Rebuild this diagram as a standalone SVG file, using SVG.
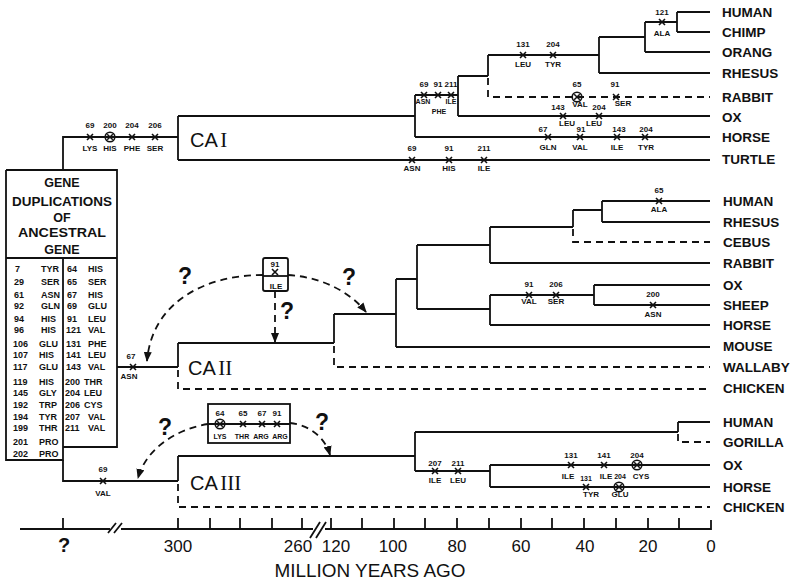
<svg xmlns="http://www.w3.org/2000/svg" xmlns:xlink="http://www.w3.org/1999/xlink" width="793" height="582" viewBox="0 0 793 582">
<style>
.ln{fill:none;stroke:#111;stroke-width:1.8}
.ds{fill:none;stroke:#111;stroke-width:1.8;stroke-dasharray:7 5}
.da{fill:none;stroke:#111;stroke-width:1.8;stroke-dasharray:7 5}
.sp{font-family:"Liberation Sans",Arial,sans-serif;font-weight:bold;font-size:13.5px;fill:#111}
.n{font-family:"Liberation Sans",Arial,sans-serif;font-weight:bold;font-size:8px;fill:#111;text-anchor:middle}
.s{font-size:7px}
.tb{font-family:"Liberation Sans",Arial,sans-serif;font-weight:bold;font-size:9px;fill:#111}
.hd{font-family:"Liberation Sans",Arial,sans-serif;font-weight:bold;font-size:12.5px;fill:#111;text-anchor:middle}
.q{font-family:"Liberation Sans",Arial,sans-serif;font-weight:bold;font-size:23px;fill:#111;text-anchor:middle}
.ax{font-family:"Liberation Sans",Arial,sans-serif;font-size:17px;fill:#111;text-anchor:middle}
.ca{font-family:"Liberation Sans",Arial,sans-serif;font-size:20px;fill:#111;word-spacing:-2px}
.rn{font-family:"Liberation Serif","Times New Roman",serif;font-size:21px}
</style>
<defs>
<g id="x"><path d="M-3,-3L3,3M3,-3L-3,3" stroke="#111" stroke-width="1.6" fill="none"/></g>
<g id="xc"><circle r="4.8" fill="none" stroke="#111" stroke-width="1.6"/><path d="M-2.8,-2.8L2.8,2.8M2.8,-2.8L-2.8,2.8" stroke="#111" stroke-width="1.5" fill="none"/></g>
<marker id="ah" markerUnits="userSpaceOnUse" markerWidth="10" markerHeight="8" refX="9" refY="4" orient="auto"><path d="M0,0L10,4L0,8z" fill="#111" stroke="none"/></marker>
</defs>
<rect width="793" height="582" fill="#fff"/>

<g id="connectors">
<!-- CA I -->
<path class="ln" d="M63,170V137H178M178,116V160M178,116H415M178,160H710M415,95V137M415,95H458M415,137H710M458,76V116M458,76H488M458,116H710M488,55V76M488,55H599M599,37V73M599,37H645M599,73H710M645,22V52M645,22H677M645,52H710M677,12V32M677,12H710M677,32H710"/>
<path class="ds" d="M488,78V97H710"/>
<!-- CA II -->
<path class="ln" d="M117,367H178M178,343V367M178,343H334M334,314V343M334,314H396M396,279V347M396,279H417M396,347H710M417,245V309M417,245H490M417,309H490M490,227V263M490,227H573M490,263H710M573,210V227M573,210H602M602,201V222M602,201H710M602,222H710M490,295V325M490,295H594M490,325H710M594,285V305M594,285H710M594,305H710"/>
<path class="ds" d="M178,370V389H710M334,346V367H710M573,229V242H710"/>
<!-- CA III -->
<path class="ln" d="M63,460V481H178M178,456V481M178,456H415M415,432V471M415,432H678M678,422V432M678,422H710M415,471H490M490,465V487M490,465H710M490,487H710"/>
<path class="ds" d="M178,484V507H710M678,434V442H710"/>
<!-- uncertain origin arrows -->
<path class="da" d="M263,275C205,275 152,302 147,361" marker-end="url(#ah)"/>
<path class="da" d="M288,275C322,277 350,292 366,312" marker-end="url(#ah)"/>
<path class="da" d="M275,291V342" marker-end="url(#ah)"/>
<path class="da" d="M208,424C176,429 146,449 138,478" marker-end="url(#ah)"/>
<path class="da" d="M290,423C309,425 325,437 330,455" marker-end="url(#ah)"/>
</g>

<g id="ancestral-box">
<path class="ln" d="M6,170H117V447H63M6,170V460H63V447M6,258H117M63,258V460"/>
<text class="hd" x="62" y="187">GENE</text>
<text class="hd" x="62" y="206" textLength="100" lengthAdjust="spacingAndGlyphs">DUPLICATIONS</text>
<text class="hd" x="62" y="222">OF</text>
<text class="hd" x="62" y="237" textLength="88" lengthAdjust="spacingAndGlyphs">ANCESTRAL</text>
<text class="hd" x="62" y="254">GENE</text>
<g class="tb">
<text x="15" y="272">7</text><text x="41" y="272">TYR</text>
<text x="14" y="285">29</text><text x="41" y="285">SER</text>
<text x="14" y="298">61</text><text x="41" y="298">ASN</text>
<text x="14" y="309">92</text><text x="41" y="309">GLN</text>
<text x="14" y="322">94</text><text x="41" y="322">HIS</text>
<text x="14" y="333">96</text><text x="41" y="333">HIS</text>
<text x="13" y="347">106</text><text x="39" y="347">GLU</text>
<text x="13" y="358">107</text><text x="39" y="358">HIS</text>
<text x="13" y="370">117</text><text x="39" y="370">GLU</text>
<text x="13" y="385">119</text><text x="39" y="385">HIS</text>
<text x="13" y="396">145</text><text x="39" y="396">GLY</text>
<text x="13" y="408">192</text><text x="39" y="408">TRP</text>
<text x="13" y="420">194</text><text x="39" y="420">TYR</text>
<text x="13" y="431">199</text><text x="39" y="431">THR</text>
<text x="13" y="445">201</text><text x="39" y="445">PRO</text>
<text x="13" y="457">202</text><text x="39" y="457">PRO</text>
<text x="67" y="272">64</text><text x="88" y="272">HIS</text>
<text x="67" y="285">65</text><text x="88" y="285">SER</text>
<text x="67" y="298">67</text><text x="88" y="298">HIS</text>
<text x="67" y="309">69</text><text x="88" y="309">GLU</text>
<text x="67" y="322">91</text><text x="88" y="322">LEU</text>
<text x="66" y="333">121</text><text x="88" y="333">VAL</text>
<text x="66" y="347">131</text><text x="88" y="347">PHE</text>
<text x="66" y="358">141</text><text x="88" y="358">LEU</text>
<text x="66" y="370">143</text><text x="88" y="370">VAL</text>
<text x="65" y="385">200</text><text x="84" y="385">THR</text>
<text x="65" y="396">204</text><text x="84" y="396">LEU</text>
<text x="65" y="408">206</text><text x="84" y="408">CYS</text>
<text x="65" y="420">207</text><text x="88" y="420">VAL</text>
<text x="65" y="431">211</text><text x="88" y="431">VAL</text>
</g>
</g>

<g id="ca1"><text class="ca" x="190" y="147">CA <tspan class="rn">I</tspan></text></g>
<g id="ca2"><text class="ca" x="188" y="375">CA <tspan class="rn">II</tspan></text></g>
<g id="ca3"><text class="ca" x="190" y="490">CA <tspan class="rn">III</tspan></text></g>

<g id="ca1-species" class="sp">
<text x="722" y="17">HUMAN</text>
<text x="722" y="37">CHIMP</text>
<text x="722" y="57">ORANG</text>
<text x="722" y="78">RHESUS</text>
<text x="722" y="102">RABBIT</text>
<text x="722" y="122">OX</text>
<text x="722" y="142">HORSE</text>
<text x="722" y="164">TURTLE</text>
</g>
<g id="ca2-species" class="sp">
<text x="723" y="206">HUMAN</text>
<text x="723" y="227">RHESUS</text>
<text x="723" y="247">CEBUS</text>
<text x="723" y="268">RABBIT</text>
<text x="723" y="290">OX</text>
<text x="723" y="310">SHEEP</text>
<text x="723" y="330">HORSE</text>
<text x="723" y="351">MOUSE</text>
<text x="723" y="372">WALLABY</text>
<text x="723" y="393">CHICKEN</text>
</g>
<g id="ca3-species" class="sp">
<text x="723" y="427">HUMAN</text>
<text x="723" y="447">GORILLA</text>
<text x="723" y="470">OX</text>
<text x="723" y="492">HORSE</text>
<text x="723" y="512">CHICKEN</text>
</g>

<g id="ca1-substitutions">
<use href="#x" x="90" y="137"/><text class="n" x="90" y="128">69</text><text class="n" x="90" y="151">LYS</text>
<use href="#xc" x="110" y="137"/><text class="n" x="110" y="128">200</text><text class="n" x="110" y="151">HIS</text>
<use href="#x" x="132" y="137"/><text class="n" x="132" y="128">204</text><text class="n" x="132" y="151">PHE</text>
<use href="#x" x="155" y="137"/><text class="n" x="155" y="128">206</text><text class="n" x="155" y="151">SER</text>
<use href="#x" x="424" y="95"/><text class="n" x="424" y="87">69</text><text class="n s" x="423" y="104">ASN</text>
<use href="#x" x="438" y="95"/><text class="n" x="438" y="87">91</text><text class="n s" x="439" y="114">PHE</text>
<use href="#x" x="451" y="95"/><text class="n" x="451" y="87">211</text><text class="n s" x="451" y="104">ILE</text>
<use href="#x" x="523" y="55"/><text class="n" x="523" y="47">131</text><text class="n" x="523" y="67">LEU</text>
<use href="#x" x="553" y="55"/><text class="n" x="553" y="47">204</text><text class="n" x="553" y="67">TYR</text>
<use href="#x" x="662" y="22"/><text class="n" x="662" y="15">121</text><text class="n" x="662" y="36">ALA</text>
<use href="#xc" x="577" y="97"/><text class="n" x="577" y="87">65</text><text class="n" x="580" y="107">VAL</text>
<use href="#x" x="616" y="97"/><text class="n" x="615" y="87">91</text><text class="n" x="623" y="106">SER</text>
<use href="#x" x="563" y="116"/><text class="n" x="558" y="110">143</text><text class="n" x="567" y="126">LEU</text>
<use href="#x" x="599" y="116"/><text class="n" x="599" y="110">204</text><text class="n" x="594" y="126">LEU</text>
<use href="#x" x="548" y="137"/><text class="n" x="543" y="132">67</text><text class="n" x="548" y="150">GLN</text>
<use href="#x" x="580" y="137"/><text class="n" x="581" y="132">91</text><text class="n" x="580" y="150">VAL</text>
<use href="#x" x="617" y="137"/><text class="n" x="619" y="132">143</text><text class="n" x="617" y="150">ILE</text>
<use href="#x" x="645" y="137"/><text class="n" x="646" y="132">204</text><text class="n" x="646" y="150">TYR</text>
<use href="#x" x="412" y="160"/><text class="n" x="412" y="151">69</text><text class="n" x="412" y="171">ASN</text>
<use href="#x" x="449" y="160"/><text class="n" x="449" y="151">91</text><text class="n" x="449" y="171">HIS</text>
<use href="#x" x="484" y="160"/><text class="n" x="484" y="151">211</text><text class="n" x="484" y="171">ILE</text>
</g>

<g id="ca2-substitutions">
<use href="#x" x="133" y="367"/><text class="n" x="131" y="359">67</text><text class="n" x="129" y="379">ASN</text>
<use href="#x" x="659" y="201"/><text class="n" x="659" y="193">65</text><text class="n" x="659" y="212">ALA</text>
<use href="#x" x="529" y="295"/><text class="n" x="529" y="287">91</text><text class="n" x="529" y="304">VAL</text>
<use href="#x" x="556" y="295"/><text class="n" x="556" y="287">206</text><text class="n" x="556" y="304">SER</text>
<use href="#x" x="653" y="305"/><text class="n" x="653" y="297">200</text><text class="n" x="653" y="317">ASN</text>
</g>

<g id="ca2-uncertain-box">
<rect x="263" y="258" width="25" height="33" rx="2" class="ln"/>
<path class="ln" d="M263,276H288"/>
<text class="n" x="275" y="267">91</text>
<use href="#x" x="275" y="272"/>
<text class="n" x="276" y="289">ILE</text>
</g>

<g id="ca3-uncertain-box">
<rect x="208" y="404" width="82" height="39" class="ln"/>
<path class="ln" d="M208,424H290"/>
<use href="#xc" x="220" y="424"/><text class="n" x="220" y="416">64</text><text class="n s" x="220" y="439">LYS</text>
<use href="#x" x="243" y="424"/><text class="n" x="243" y="416">65</text><text class="n s" x="242" y="439">THR</text>
<use href="#x" x="262" y="424"/><text class="n" x="262" y="416">67</text><text class="n s" x="261" y="439">ARG</text>
<use href="#x" x="277" y="424"/><text class="n" x="277" y="416">91</text><text class="n s" x="280" y="439">ARG</text>
</g>

<g id="ca3-substitutions">
<use href="#x" x="103" y="481"/><text class="n" x="103" y="472">69</text><text class="n" x="103" y="496">VAL</text>
<use href="#x" x="435" y="471"/><text class="n" x="435" y="466">207</text><text class="n" x="435" y="483">ILE</text>
<use href="#x" x="458" y="471"/><text class="n" x="458" y="466">211</text><text class="n" x="458" y="483">LEU</text>
<use href="#x" x="571" y="465"/><text class="n" x="571" y="458">131</text><text class="n" x="568" y="479">ILE</text>
<use href="#x" x="604" y="465"/><text class="n" x="604" y="458">141</text><text class="n" x="606" y="479">ILE</text>
<use href="#xc" x="637" y="465"/><text class="n" x="637" y="458">204</text><text class="n" x="641" y="479">CYS</text>
<use href="#x" x="586" y="487"/><text class="n s" x="586" y="481">131</text><text class="n" x="591" y="497">TYR</text>
<use href="#xc" x="619" y="487"/><text class="n s" x="620" y="479">204</text><text class="n" x="620" y="497">GLU</text>
</g>

<g id="question-marks" class="q">
<text x="185" y="284">?</text>
<text x="349" y="285">?</text>
<text x="287" y="319">?</text>
<text x="165" y="435">?</text>
<text x="322" y="430">?</text>
</g>

<g id="time-axis">
<path class="ln" d="M20,529H110M121,529H313M325,529H711V520"/>
<path class="ln" d="M108,533L116,523M114,533L122,523M310,538L320,522M316,538L326,522"/>
<path class="ln" d="M63,518V529M178,518V529M210,518V529M240,518V529M272,518V529M302,518V529M331,518V529M362,518V529M394,518V529M425,518V529M457,518V529M489,518V529M521,518V529M552,518V529M584,518V529M616,518V529M648,518V529M679,518V529"/>
<text class="q" x="64" y="552" style="font-size:20px">?</text>
<text class="ax" x="178" y="552">300</text>
<text class="ax" x="298" y="552">260</text>
<text class="ax" x="336" y="552">120</text>
<text class="ax" x="393" y="552">100</text>
<text class="ax" x="457" y="552">80</text>
<text class="ax" x="521" y="552">60</text>
<text class="ax" x="585" y="552">40</text>
<text class="ax" x="648" y="552">20</text>
<text class="ax" x="711" y="552">0</text>
<text class="ax" x="370" y="577" style="font-size:18px" textLength="191" lengthAdjust="spacingAndGlyphs">MILLION YEARS AGO</text>
</g>
</svg>
